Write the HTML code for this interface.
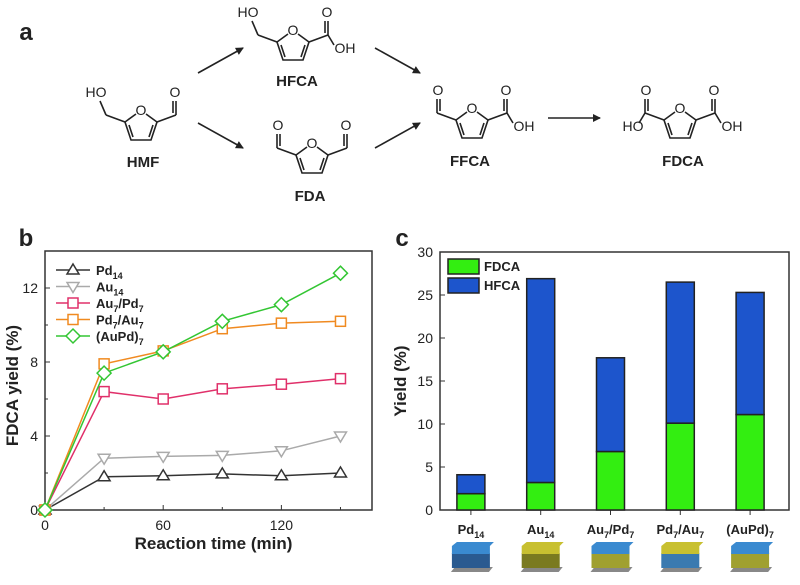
<!DOCTYPE html>
<html><head><meta charset="utf-8"><style>
body{margin:0;background:#fff}
svg text{font-family:"Liberation Sans",Arial,sans-serif}
</style></head><body>
<svg id="root" width="800" height="580" viewBox="0 0 800 580">
<g id="scheme" stroke="#222" fill="none" stroke-width="1.6"></g>
<g id="chartb"></g>
<g id="chartc"></g>
</svg>
<script>
// ---- Chart b data ----
const times=[0,30,60,90,120,150];
const seriesNames=["Pd14","Au14","Au7/Pd7","Pd7/Au7","(AuPd)7"];
const pd14=[0,1.8,1.85,1.95,1.85,2.0];
const au14=[0,2.8,2.9,2.95,3.2,4.0];
const au7pd7=[0,6.4,6.0,6.55,6.8,7.1];
const pd7au7=[0,7.9,8.6,9.8,10.1,10.2];
const aupd7=[0,7.4,8.55,10.2,11.1,12.8];
const bYTicks=[0,4,8,12];
const bXTicks=[0,60,120];
// ---- Chart c data ----
const cats=["Pd14","Au14","Au7/Pd7","Pd7/Au7","(AuPd)7"];
const fdca=[1.9,3.2,6.8,10.1,11.1];
const hfca=[2.2,23.7,10.9,16.4,14.2];
const cYTicks=[0,5,10,15,20,25,30];

const NS="http://www.w3.org/2000/svg";
function el(tag,attrs,parent,text){const e=document.createElementNS(NS,tag);for(const k in attrs)e.setAttribute(k,attrs[k]);if(text!==undefined)e.textContent=text;parent.appendChild(e);return e;}
const root=document.getElementById('root');

// ---- Scheme ----
const sc=document.getElementById('scheme');
function txt(x,y,s,size,w,parent,anchor){const t=el('text',{x:x,y:y,'font-size':size,'font-weight':w||'bold','text-anchor':anchor||'middle',fill:'#222',stroke:'none'},parent||sc,s);return t;}
function furan(cx,cy,left,right,name){
  const g=el('g',{},sc);
  
  
  const O=[cx,cy-15],C2=[cx+16,cy-3],C3=[cx+10,cy+15],C4=[cx-10,cy+15],C5=[cx-16,cy-3];
  el('path',{d:`M${O[0]+5},${O[1]+4}L${C2}L${C3}L${C4}L${C5}L${O[0]-5},${O[1]+4}`},g);
  el('path',{d:`M${C2[0]-4},${C2[1]+3}L${C3[0]-2},${C3[1]-3}M${C4[0]+2},${C4[1]-3}L${C5[0]+4},${C5[1]+3}`},g);
  txt(O[0],O[1]+5,'O',14,'normal',g);
  const L1=[C5[0]-19,C5[1]-7];
  el('path',{d:`M${C5}L${L1}`},g);
  if(left==='CH2OH'){el('path',{d:`M${L1}L${L1[0]-6},${L1[1]-14}`},g);txt(L1[0]-10,L1[1]-18,'HO',14,'normal',g);}
  if(left==='CHO'){el('path',{d:`M${L1}L${L1[0]},${L1[1]-14}M${L1[0]+3},${L1[1]-2}L${L1[0]+3},${L1[1]-14}`},g);txt(L1[0]+1,L1[1]-18,'O',14,'normal',g);}
  if(left==='COOH'){el('path',{d:`M${L1}L${L1[0]},${L1[1]-14}M${L1[0]+3},${L1[1]-2}L${L1[0]+3},${L1[1]-14}M${L1}L${L1[0]-6},${L1[1]+10}`},g);txt(L1[0]+1,L1[1]-18,'O',14,'normal',g);txt(L1[0]-12,L1[1]+18,'HO',14,'normal',g);}
  const R1=[C2[0]+19,C2[1]-7];
  el('path',{d:`M${C2}L${R1}`},g);
  if(right==='CHO'){el('path',{d:`M${R1[0]},${R1[1]}L${R1[0]},${R1[1]-14}M${R1[0]-3},${R1[1]-2}L${R1[0]-3},${R1[1]-14}`},g);txt(R1[0]-1,R1[1]-18,'O',14,'normal',g);}
  if(right==='COOH'){el('path',{d:`M${R1}L${R1[0]},${R1[1]-14}M${R1[0]-3},${R1[1]-2}L${R1[0]-3},${R1[1]-14}M${R1}L${R1[0]+6},${R1[1]+10}`},g);txt(R1[0]-1,R1[1]-18,'O',14,'normal',g);txt(R1[0]+17,R1[1]+18,'OH',14,'normal',g);}
}
txt(26,40,'a',24,'bold',root);
furan(141,125,'CH2OH','CHO','hmf-structure');txt(143,167,'HMF',15);
furan(293,45,'CH2OH','COOH','hfca-structure');txt(297,86,'HFCA',15);
furan(312,158,'CHO','CHO','fda-structure');txt(310,201,'FDA',15);
furan(472,123,'CHO','COOH','ffca-structure');txt(470,166,'FFCA',15);
furan(680,123,'COOH','COOH','fdca-structure');txt(683,166,'FDCA',15);
const defs=el('defs',{},root);
const mk=el('marker',{id:'ah',markerWidth:8,markerHeight:8,refX:7,refY:4,orient:'auto',markerUnits:'userSpaceOnUse'},defs);
el('path',{d:'M0,0L8,4L0,8Z',fill:'#222'},mk);
[[198,73,243,48],[198,123,243,148],[375,48,420,73],[375,148,420,123],[548,118,600,118]].forEach((a,i)=>{
  const l=el('line',{x1:a[0],y1:a[1],x2:a[2],y2:a[3],stroke:'#222','stroke-width':1.6,'marker-end':'url(#ah)'},sc);
  
  
});

// ---- Chart b ----
const cb=document.getElementById('chartb');
const bx0=45,bx1=372,by0=510,by1=251,bXmax=166,bYmax=14;
const bX=v=>bx0+(v/bXmax)*(bx1-bx0);
const bY=v=>by0-(v/bYmax)*(by0-by1);
txt(26,246,'b',24,'bold',cb);
const fb=el('rect',{x:bx0,y:by1,width:bx1-bx0,height:by0-by1,fill:'none',stroke:'#333','stroke-width':1.5},cb);

bYTicks.forEach(v=>{el('line',{x1:bx0,x2:bx0+5,y1:bY(v),y2:bY(v),stroke:'#333'},cb);
  const t=txt(bx0-7,bY(v)+5,String(v),14,'normal',cb,'end');});
[2,6,10].forEach(v=>el('line',{x1:bx0,x2:bx0+3,y1:bY(v),y2:bY(v),stroke:'#333'},cb));
bXTicks.forEach(v=>{el('line',{x1:bX(v),x2:bX(v),y1:by0,y2:by0-5,stroke:'#333'},cb);
  const t=txt(bX(v),by0+20,String(v),14,'normal',cb);});
[30,90,150].forEach(v=>el('line',{x1:bX(v),x2:bX(v),y1:by0,y2:by0-3,stroke:'#333'},cb));
const bxt=txt((bx0+bx1)/2+5,549,'Reaction time (min)',17,'bold',cb);
const byt=txt(0,0,'FDCA yield (%)',17,'bold',cb);byt.setAttribute('transform',`translate(18,${(by0+by1)/2+5}) rotate(-90)`);
const bSeries=[pd14,au14,au7pd7,pd7au7,aupd7];
const bColors=['#333','#aaa','#e0306a','#f08a20','#33c633'];
const bMarkers=['tri','itri','sq','sq','dia'];
function marker(g,type,x,y,c){
  let m;
  if(type==='tri')m=el('path',{d:`M${x},${y-6}L${x+6},${y+4}L${x-6},${y+4}Z`},g);
  else if(type==='itri')m=el('path',{d:`M${x},${y+6}L${x+6},${y-4}L${x-6},${y-4}Z`},g);
  else if(type==='sq')m=el('rect',{x:x-5,y:y-5,width:10,height:10},g);
  else m=el('path',{d:`M${x},${y-7}L${x+7},${y}L${x},${y+7}L${x-7},${y}Z`},g);
  m.setAttribute('fill','#fff');m.setAttribute('stroke',c);m.setAttribute('stroke-width',1.5);return m;
}
bSeries.forEach((s,i)=>{
  const g=el('g',{},cb);
  
  
  el('polyline',{points:s.map((v,j)=>bX(times[j])+','+bY(v)).join(' '),fill:'none',stroke:bColors[i],'stroke-width':1.5},g);
  s.forEach((v,j)=>{const m=marker(g,bMarkers[i],bX(times[j]),bY(v),bColors[i]);
    
    });
});
[0,1,2,3,4].forEach(i=>{
  const y=270+i*16.5;
  const g=el('g',{},cb);
  
  
  el('line',{x1:56,x2:90,y1:y,y2:y,stroke:bColors[i],'stroke-width':1.5},g);
  marker(g,bMarkers[i],73,y,bColors[i]);
  const t=el('text',{x:96,y:y+5,'font-size':13,'font-weight':'bold',fill:'#222'},g);
  const h=['Pd<tspan font-size="9" dy="4">14</tspan>','Au<tspan font-size="9" dy="4">14</tspan>','Au<tspan font-size="9" dy="4">7</tspan><tspan dy="-4">/Pd</tspan><tspan font-size="9" dy="4">7</tspan>','Pd<tspan font-size="9" dy="4">7</tspan><tspan dy="-4">/Au</tspan><tspan font-size="9" dy="4">7</tspan>','(AuPd)<tspan font-size="9" dy="4">7</tspan>'];
  t.innerHTML=h[i];
});

// ---- Chart c ----
const cc=document.getElementById('chartc');
const cx0=440,cx1=789,cy0=510,cy1=252,cYmax=30;
const cY=v=>cy0-(v/cYmax)*(cy0-cy1);
const cBand=(cx1-cx0)/cats.length;
const cX=i=>cx0+cBand*(i+0.5)-4;
const bw=28;
txt(402,246,'c',24,'bold',cc);
const fc=el('rect',{x:cx0,y:cy1,width:cx1-cx0,height:cy0-cy1,fill:'none',stroke:'#333','stroke-width':1.5},cc);

cYTicks.forEach(v=>{el('line',{x1:cx0,x2:cx0+5,y1:cY(v),y2:cY(v),stroke:'#333'},cc);
  const t=txt(cx0-7,cY(v)+5,String(v),14,'normal',cc,'end');});
const cyt=txt(0,0,'Yield (%)',17,'bold',cc);cyt.setAttribute('transform',`translate(406,${(cy0+cy1)/2}) rotate(-90)`);
const cubeColors=[['#3a8ad0','#2a5a90'],['#c8c030','#7a7a20'],['#3a8ad0','#a0a030'],['#c8c030','#3a7ab0'],['#3a8ad0','#a0a030']];
const subs={'Pd14':'Pd<tspan font-size="9" dy="4">14</tspan>','Au14':'Au<tspan font-size="9" dy="4">14</tspan>','Au7/Pd7':'Au<tspan font-size="9" dy="4">7</tspan><tspan dy="-4">/Pd</tspan><tspan font-size="9" dy="4">7</tspan>','Pd7/Au7':'Pd<tspan font-size="9" dy="4">7</tspan><tspan dy="-4">/Au</tspan><tspan font-size="9" dy="4">7</tspan>','(AuPd)7':'(AuPd)<tspan font-size="9" dy="4">7</tspan>'};
cats.forEach((c,i)=>{
  const x=cX(i);
  el('line',{x1:x,x2:x,y1:cy0,y2:cy0+5,stroke:'#333'},cc);
  const g1=el('rect',{x:x-bw/2,y:cY(fdca[i]),width:bw,height:cY(0)-cY(fdca[i]),fill:'#33ee11',stroke:'#222','stroke-width':1.5},cc);
  
  
  const tot=fdca[i]+hfca[i];
  const g2=el('rect',{x:x-bw/2,y:cY(tot),width:bw,height:cY(fdca[i])-cY(tot),fill:'#1d55cc',stroke:'#222','stroke-width':1.5},cc);
  
  
  const t=el('text',{x:x,y:534,'font-size':13,'font-weight':'bold','text-anchor':'middle',fill:'#222'},cc);
  
  t.innerHTML=subs[c];
  const cg=el('g',{},cc);
  
  
  el('path',{d:`M${x-20},${572}L${x+18},${572}L${x+22},${567}L${x-16},${567}Z`,fill:'#888'},cg);
  el('rect',{x:x-19,y:553,width:38,height:15,fill:cubeColors[i][1]},cg);
  el('rect',{x:x-19,y:546,width:38,height:8,fill:cubeColors[i][0]},cg);
  el('path',{d:`M${x-19},546L${x-14},542L${x+23},542L${x+19},546Z`,fill:cubeColors[i][0]},cg);
});
[['FDCA','#33ee11',266],['HFCA','#1d55cc',285]].forEach(l=>{
  const g=el('g',{},cc);
  
  
  el('rect',{x:448,y:l[2]-7,width:31,height:15,fill:l[1],stroke:'#222','stroke-width':1.5},g);
  txt(484,l[2]+5,l[0],13,'bold',g,'start');
});
</script>
</body></html>
